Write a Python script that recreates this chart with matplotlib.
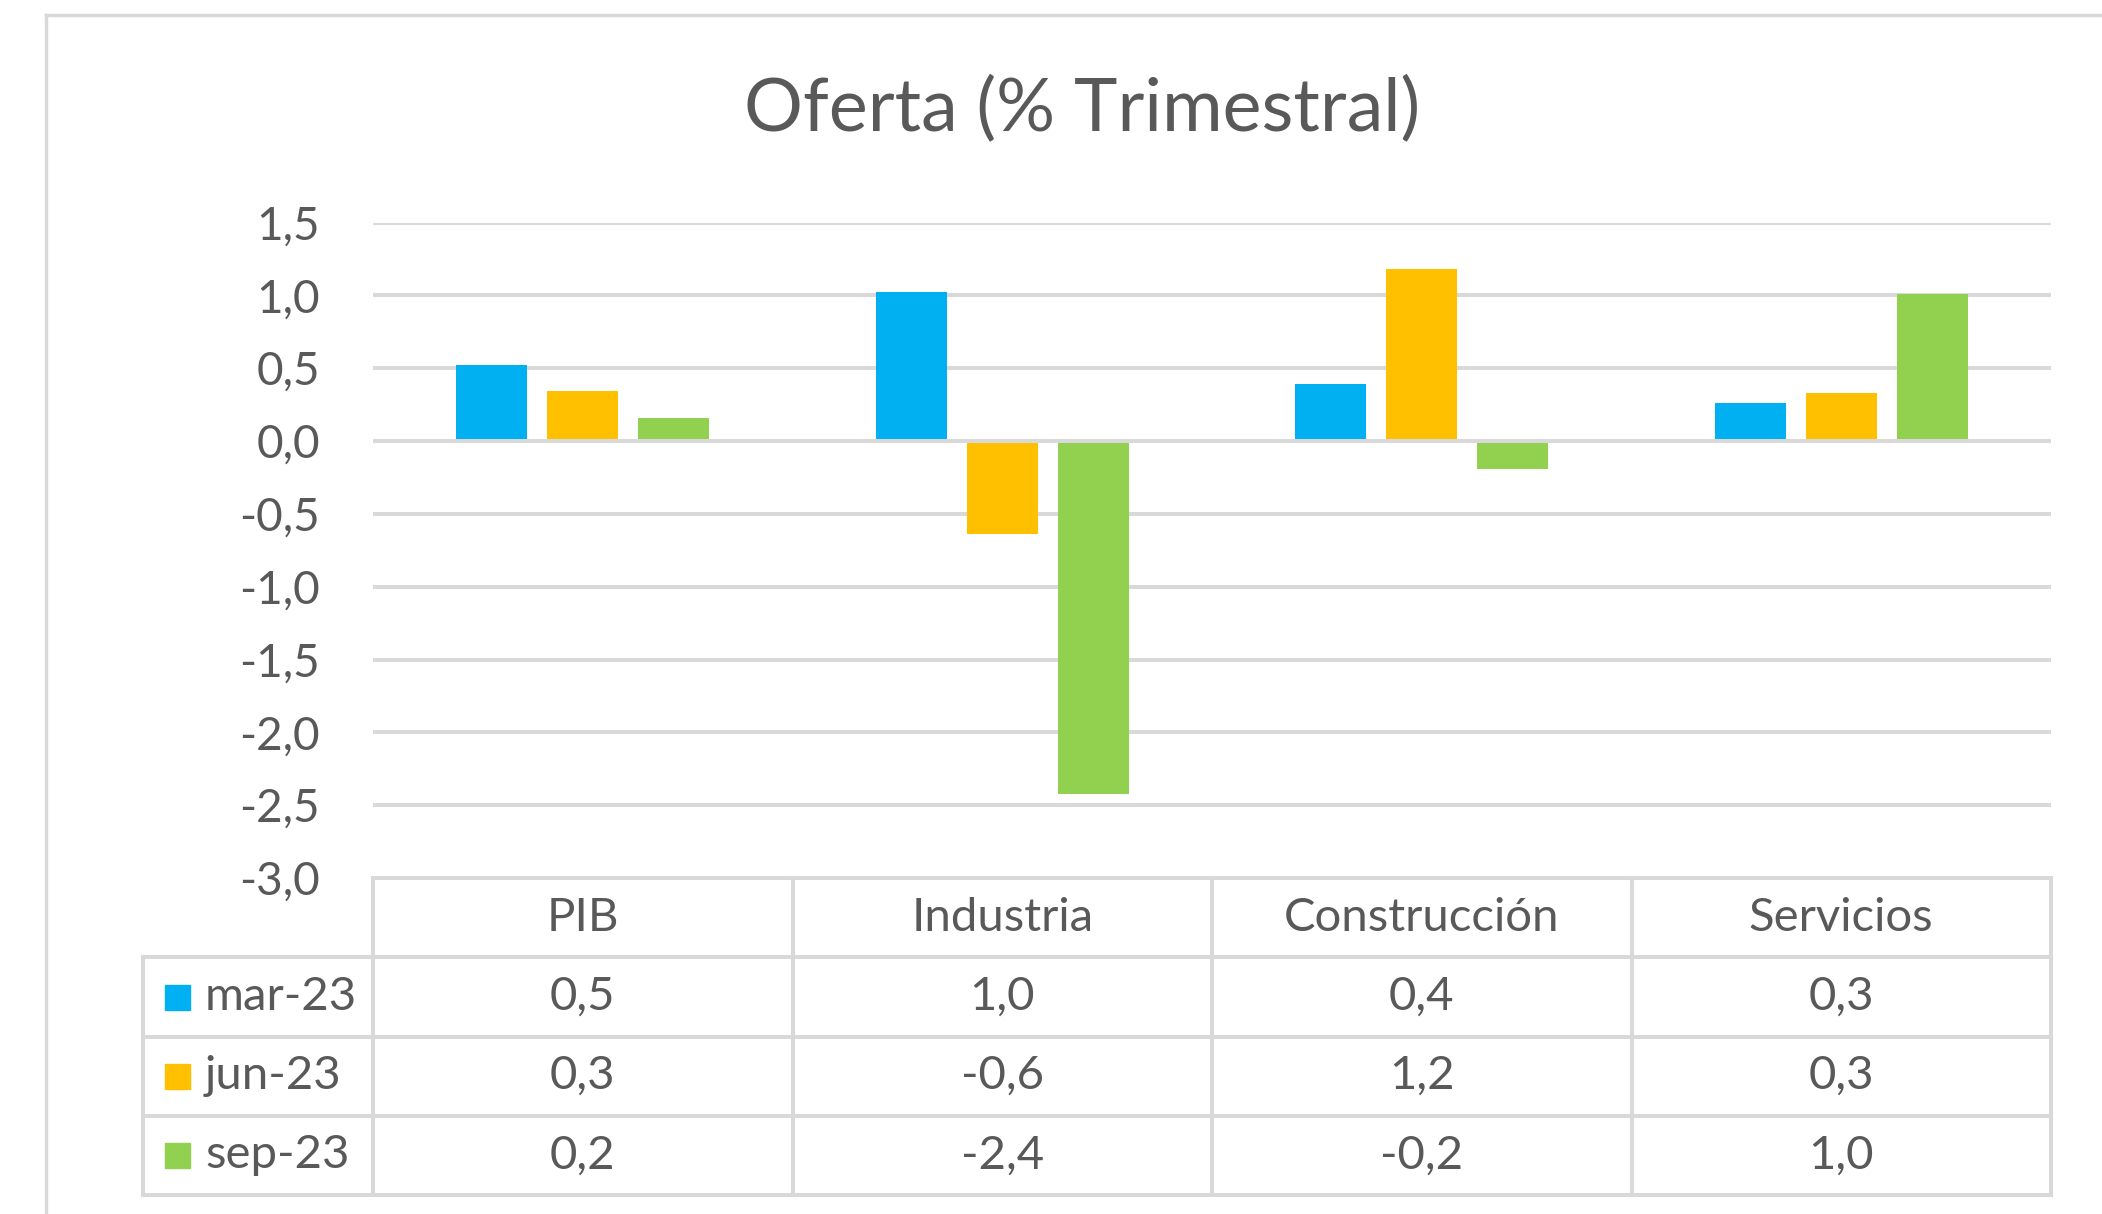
import matplotlib.pyplot as plt
from matplotlib.lines import Line2D

# Datos
categorias = ['PIB', 'Industria', 'Construcción', 'Servicios']
series = ['mar-23', 'jun-23', 'sep-23']
mar_23 = [0.52, 1.02, 0.39, 0.26]
jun_23 = [0.34, -0.64, 1.18, 0.33]
sep_23 = [0.16, -2.42, -0.19, 1.01]
valores = [mar_23, jun_23, sep_23]
colores = ['#00B0F0', '#FFC000', '#92D050']
yticks = [1.5, 1.0, 0.5, 0.0, -0.5, -1.0, -1.5, -2.0, -2.5, -3.0]

W, H = 2102, 1214
gris = '#D9D9D9'
texto = '#595959'
fuente = 'Lato'

plt.rcParams['font.family'] = [fuente, 'DejaVu Sans']

fig = plt.figure(figsize=(W / 100, H / 100), dpi=100)

# marco exterior
fig.add_artist(Line2D([46 / W, 46 / W], [0, 1 - 15 / H], color=gris, lw=2.5))
fig.add_artist(Line2D([46 / W, 1], [1 - 15 / H, 1 - 15 / H], color=gris, lw=2.5))

# titulo
fig.text(1082 / W, 1 - 110 / H, 'Oferta (% Trimestral)', ha='center', va='center',
         fontsize=53, color=texto)

# area del grafico
x0, x1 = 373, 2051
ytop, ybot = 222.5, 878
ax = fig.add_axes([x0 / W, 1 - ybot / H, (x1 - x0) / W, (ybot - ytop) / H])
ax.set_xlim(-0.5, len(categorias) - 0.5)
ax.set_ylim(-3.0, 1.5)
for s in ax.spines.values():
    s.set_visible(False)
ax.set_xticks([])
ax.set_yticks(yticks)
ax.set_yticklabels([f'{v:.1f}'.replace('.', ',') for v in yticks])
ax.tick_params(axis='y', length=0, pad=38, labelsize=33, labelcolor=texto)
for v in yticks[:-1]:
    ax.axhline(v, color=gris, lw=2.9, zorder=3 if v == 0 else 1)

ancho = 0.17
paso = 0.217
for i, (vals, c) in enumerate(zip(valores, colores)):
    xs = [k + (i - 1) * paso for k in range(len(categorias))]
    ax.bar(xs, vals, width=ancho, color=c, zorder=2)

# tabla de datos
leg = (x0 - 143) / ((x1 - x0) / len(categorias))
ty0, ty1 = 878, 1195
tab = fig.add_axes([143 / W, 1 - ty1 / H, (x1 - 143) / W, (ty1 - ty0) / H])
tab.set_xlim(-0.5 - leg, len(categorias) - 0.5)
tab.set_ylim(len(series) + 1, 0)
tab.axis('off')
kw = dict(color=gris, lw=2.9, clip_on=False)
tab.plot([-0.5, len(categorias) - 0.5], [0, 0], **kw)
for r in range(1, len(series) + 2):
    tab.plot([-0.5 - leg, len(categorias) - 0.5], [r, r], **kw)
tab.plot([-0.5 - leg, -0.5 - leg], [1, len(series) + 1], **kw)
for k in range(len(categorias) + 1):
    tab.plot([k - 0.5, k - 0.5], [0, len(series) + 1], **kw)

for k, cat in enumerate(categorias):
    tab.text(k, 0.5, cat, ha='center', va='center', fontsize=34, color=texto)
for i, (nombre, vals, c) in enumerate(zip(series, valores, colores)):
    yy = i + 1.5
    tab.plot([-0.5 - leg + 0.082], [yy], marker='s', markersize=18, color=c, clip_on=False)
    tab.text(-0.5 - leg + 0.148, yy, nombre, ha='left', va='center', fontsize=34, color=texto)
    for k, v in enumerate(vals):
        tab.text(k, yy, f'{v:.1f}'.replace('.', ','), ha='center', va='center',
                 fontsize=34, color=texto)

plt.savefig('out.png', dpi=100)
